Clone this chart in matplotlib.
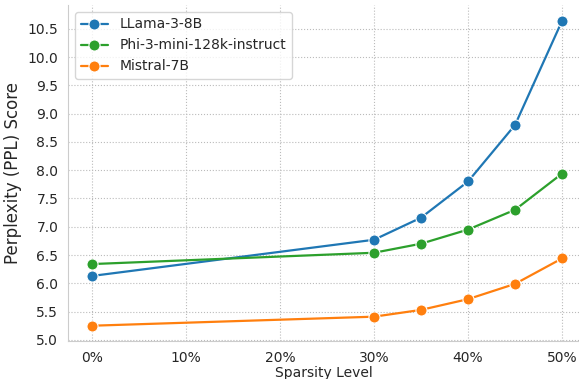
import matplotlib
matplotlib.use('Agg')
import matplotlib.pyplot as plt
import seaborn as sns
from matplotlib.ticker import PercentFormatter

sparsity = [0, 30, 35, 40, 45, 50]
llama = [6.13, 6.77, 7.16, 7.80, 8.80, 10.64]
phi = [6.34, 6.54, 6.70, 6.95, 7.30, 7.94]
mistral = [5.25, 5.41, 5.53, 5.72, 5.99, 6.44]

series = [
    ('LLama-3-8B', llama, '#1f77b4'),
    ('Phi-3-mini-128k-instruct', phi, '#2ca02c'),
    ('Mistral-7B', mistral, '#ff7f0e'),
]

sns.set_style('whitegrid', {'grid.linestyle': ':'})
plt.rcParams['font.family'] = ['DejaVu Sans']

fig = plt.figure(figsize=(5.79, 3.79), dpi=100)
ax = fig.add_axes([68 / 579, 1 - 341 / 379, 1 - 68 / 579, 336 / 379])

for name, vals, color in series:
    ax.plot(sparsity, vals, '-o', color=color, label=name, lw=1.6,
            markersize=8, markeredgecolor='white', markeredgewidth=0.8)

ax.set_xlim(-2.55, 51.8)
ax.set_ylim(4.98, 10.92)
ax.set_yticks([5.0 + 0.5 * i for i in range(12)])
ax.set_xticks([0, 10, 20, 30, 40, 50])
ax.xaxis.set_major_formatter(PercentFormatter(decimals=0))
ax.tick_params(labelsize=10, colors='#333333', labelcolor='#262626')
ax.set_xlabel('Sparsity Level', fontsize=10, labelpad=1)
ax.set_ylabel('Perplexity (PPL) Score', fontsize=12)
ax.grid(True, linestyle=':', color='#bbbbbb', lw=0.8)
for side in ['top', 'right']:
    ax.spines[side].set_visible(False)
for side in ['left', 'bottom']:
    ax.spines[side].set_color('#cccccc')

ax.legend(loc='upper left', fontsize=10, frameon=True, handlelength=2.0,
          borderaxespad=0.5)

fig.savefig('out.png', dpi=100)
